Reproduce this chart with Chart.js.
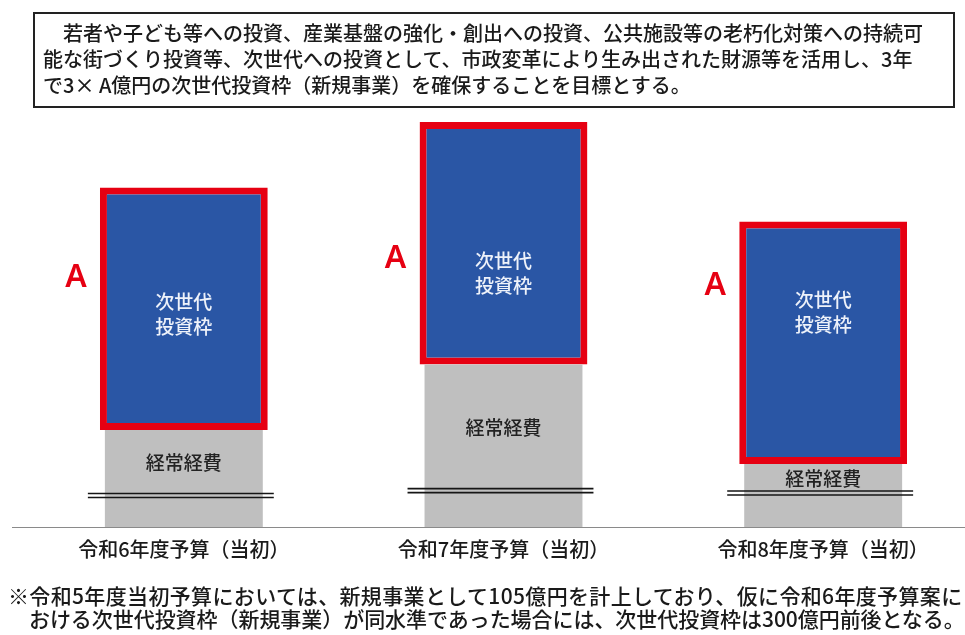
<!DOCTYPE html>
<html lang="ja">
<head>
<meta charset="utf-8">
<script src="https://cdn.jsdelivr.net/npm/chart.js@4"></script>
<style>
  body { margin: 0; width: 965px; height: 635px; overflow: hidden; background: #fff; position: relative;
         font-family: "Noto Sans CJK JP", "Noto Sans", sans-serif; color: #1a1a1a; }
  #chart { position: absolute; left: 0; top: 0; }
  #goal { position: absolute; left: 33px; top: 12px; width: 922px; height: 96px; box-sizing: border-box;
          border: 2px solid #222; padding: 6px 0 0 8px; font-size: 20px; line-height: 26px;
          white-space: pre; letter-spacing: 0; font-weight: 500; z-index: 2; }
  #note { position: absolute; left: 8px; top: 584px; font-size: 21px; line-height: 23px;
          white-space: pre; font-weight: 500; z-index: 2; }
  #note .l1 { letter-spacing: 0.35px; }
  #note .l2 { letter-spacing: -0.05px; }
</style>
</head>
<body>
<div id="goal">　若者や子ども等への投資、産業基盤の強化・創出への投資、公共施設等の老朽化対策への持続可
能な街づくり投資等、次世代への投資として、市政変革により生み出された財源等を活用し、3年
で3× A億円の次世代投資枠（新規事業）を確保することを目標とする。</div>
<canvas id="chart" width="990" height="635"></canvas>
<div id="note"><span class="l1">※令和5年度当初予算においては、新規事業として105億円を計上しており、仮に令和6年度予算案に</span>
<span class="l2">　おける次世代投資枠（新規事業）が同水準であった場合には、次世代投資枠は300億円前後となる。</span></div>
<script>
// chart data (relative heights, investment slot = 100)
const years = ['令和6年度予算（当初）', '令和7年度予算（当初）', '令和8年度予算（当初）'];
const ordinaryCost = [40, 67, 26];      // 経常経費
const nextGenSlot = [100, 100, 100];    // 次世代投資枠 (A)
const breakAt = [13, 15, 14];           // where the axis break lines cross each grey bar

// label placement tweaks (px below the top of the red box)
const aLabelOffset = [90, 137, 64];
const slotTextOffset = [126, 151, 90];

const RED = '#E60012';

// draws the break marks, labels and baseline on top of the bars
const decorations = {
  id: 'decorations',
  afterDatasetsDraw(chart) {
    const ctx = chart.ctx;
    const y = chart.scales.y;
    const grey = chart.getDatasetMeta(0).data;
    const blue = chart.getDatasetMeta(1).data;
    ctx.save();

    // baseline
    ctx.strokeStyle = '#8a8a8a';
    ctx.lineWidth = 1.2;
    ctx.beginPath();
    ctx.moveTo(12, chart.chartArea.bottom + 0.5);
    ctx.lineTo(965, chart.chartArea.bottom + 0.5);
    ctx.stroke();

    ctx.textAlign = 'center';
    ctx.textBaseline = 'middle';
    grey.forEach((bar, i) => {
      const by = y.getPixelForValue(breakAt[i]);
      const x1 = bar.x - bar.width / 2 - 17;
      const x2 = bar.x + bar.width / 2 + 11;
      ctx.strokeStyle = '#151515';
      ctx.lineWidth = 1.6;
      [by - 2, by + 2].forEach(ly => {
        ctx.beginPath();
        ctx.moveTo(x1, ly);
        ctx.lineTo(x2, ly);
        ctx.stroke();
      });

      ctx.fillStyle = '#222';
      ctx.font = '500 19px "Noto Sans CJK JP"';
      ctx.fillText('経常経費', bar.x, (bar.y + by) / 2);

      const b = blue[i];
      ctx.fillStyle = '#eef2fa';
      const ty = b.y + slotTextOffset[i];
      ctx.fillText('次世代', b.x, ty - 12);
      ctx.fillText('投資枠', b.x, ty + 13);

      ctx.fillStyle = RED;
      ctx.font = '600 32px "Noto Sans"';
      ctx.fillText('A', b.x - b.width / 2 - 24, b.y + aLabelOffset[i]);
    });
    ctx.restore();
  }
};

new Chart(document.getElementById('chart'), {
  type: 'bar',
  data: {
    labels: years,
    datasets: [
      {
        label: '経常経費',
        data: ordinaryCost,
        backgroundColor: '#BFBFBF',
        barPercentage: 0.494,
        categoryPercentage: 1
      },
      {
        label: '次世代投資枠',
        data: nextGenSlot,
        backgroundColor: '#2A56A5',
        borderColor: RED,
        borderWidth: 7,
        borderSkipped: false,
        barPercentage: 0.525,
        categoryPercentage: 1
      }
    ]
  },
  options: {
    responsive: false,
    animation: false,
    layout: { padding: { top: 110, bottom: 72, left: 24, right: 7 } },
    plugins: { legend: { display: false }, tooltip: { enabled: false } },
    scales: {
      x: {
        stacked: true,
        grid: { display: false },
        border: { display: false },
        ticks: { color: '#1a1a1a', padding: 2, font: { size: 20, weight: 500, family: '"Noto Sans CJK JP"' } }
      },
      y: { stacked: true, display: false, min: 0, max: 172 }
    }
  },
  plugins: [decorations]
});
</script>
</body>
</html>
